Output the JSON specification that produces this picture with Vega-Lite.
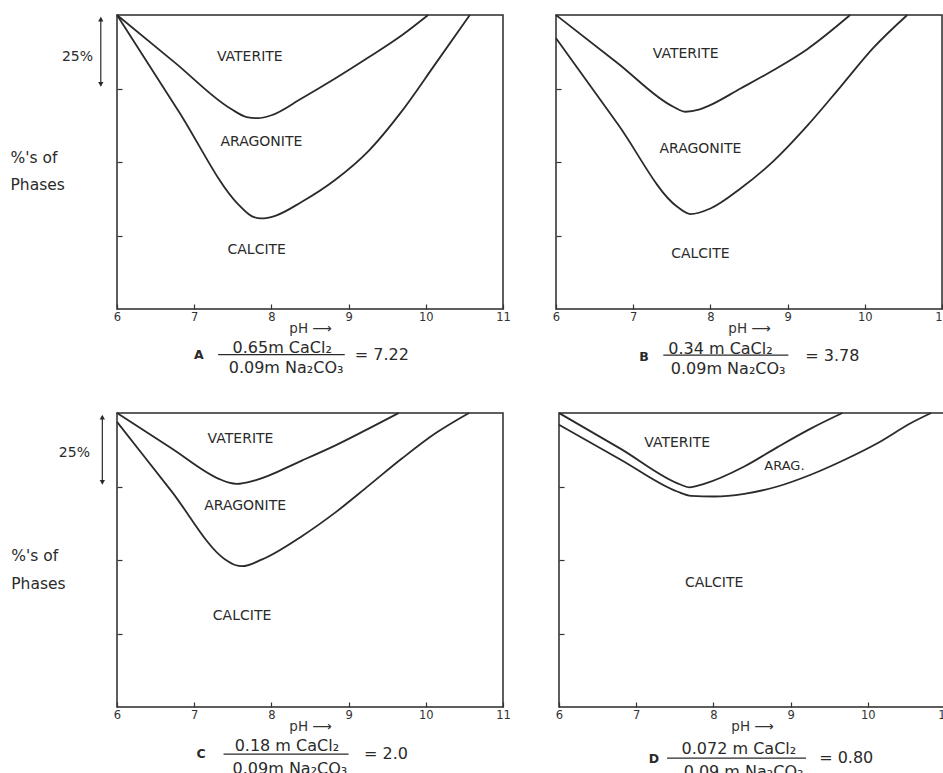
{
  "$schema": "https://vega.github.io/schema/vega-lite/v6.json",
  "background": "white",
  "padding": {"left": 9, "top": 10, "right": 0, "bottom": 0},
  "config": {
    "font": "DejaVu Sans",
    "view": {"stroke": "#2a2a2a", "strokeWidth": 1.5},
    "axis": {"grid": false, "domain": false, "tickColor": "#333333", "tickWidth": 1.2, "labelColor": "#333333", "titleColor": "#333333", "labelFont": "DejaVu Sans", "titleFont": "DejaVu Sans"},
    "text": {"font": "DejaVu Sans", "color": "#2a2a2a"},
    "rule": {"color": "#2a2a2a"}
  },
  "datasets": {
    "curves": [
      {"panel": "A", "boundary": "upper", "pH": 6, "pct": 100},
      {"panel": "A", "boundary": "upper", "pH": 6.75, "pct": 83.8},
      {"panel": "A", "boundary": "upper", "pH": 7.48, "pct": 68.0},
      {"panel": "A", "boundary": "upper", "pH": 7.68, "pct": 65.3},
      {"panel": "A", "boundary": "upper", "pH": 7.83, "pct": 64.9},
      {"panel": "A", "boundary": "upper", "pH": 8.0, "pct": 65.9},
      {"panel": "A", "boundary": "upper", "pH": 8.39, "pct": 71.6},
      {"panel": "A", "boundary": "upper", "pH": 8.82, "pct": 78.3},
      {"panel": "A", "boundary": "upper", "pH": 9.26, "pct": 85.6},
      {"panel": "A", "boundary": "upper", "pH": 9.69, "pct": 93.1},
      {"panel": "A", "boundary": "upper", "pH": 10.03, "pct": 100},
      {"panel": "A", "boundary": "lower", "pH": 6, "pct": 100},
      {"panel": "A", "boundary": "lower", "pH": 6.8, "pct": 67.2},
      {"panel": "A", "boundary": "lower", "pH": 7.57, "pct": 35.6},
      {"panel": "A", "boundary": "lower", "pH": 7.75, "pct": 31.5},
      {"panel": "A", "boundary": "lower", "pH": 7.87, "pct": 30.8},
      {"panel": "A", "boundary": "lower", "pH": 8.05, "pct": 31.7},
      {"panel": "A", "boundary": "lower", "pH": 8.39, "pct": 36.4},
      {"panel": "A", "boundary": "lower", "pH": 8.82, "pct": 43.8},
      {"panel": "A", "boundary": "lower", "pH": 9.26, "pct": 53.8},
      {"panel": "A", "boundary": "lower", "pH": 9.69, "pct": 67.3},
      {"panel": "A", "boundary": "lower", "pH": 10.12, "pct": 83.2},
      {"panel": "A", "boundary": "lower", "pH": 10.57, "pct": 100},
      {"panel": "B", "boundary": "upper", "pH": 6, "pct": 100},
      {"panel": "B", "boundary": "upper", "pH": 6.8, "pct": 83.6},
      {"panel": "B", "boundary": "upper", "pH": 7.52, "pct": 68.8},
      {"panel": "B", "boundary": "upper", "pH": 7.68, "pct": 67.1},
      {"panel": "B", "boundary": "upper", "pH": 7.85, "pct": 67.8},
      {"panel": "B", "boundary": "upper", "pH": 7.96, "pct": 68.9},
      {"panel": "B", "boundary": "upper", "pH": 8.39, "pct": 75.0},
      {"panel": "B", "boundary": "upper", "pH": 8.82, "pct": 81.3},
      {"panel": "B", "boundary": "upper", "pH": 9.25, "pct": 88.3},
      {"panel": "B", "boundary": "upper", "pH": 9.81, "pct": 100},
      {"panel": "B", "boundary": "lower", "pH": 6, "pct": 92.1},
      {"panel": "B", "boundary": "lower", "pH": 6.8, "pct": 62.9},
      {"panel": "B", "boundary": "lower", "pH": 7.57, "pct": 34.8},
      {"panel": "B", "boundary": "lower", "pH": 7.74, "pct": 32.3},
      {"panel": "B", "boundary": "lower", "pH": 8.0, "pct": 34.2},
      {"panel": "B", "boundary": "lower", "pH": 8.39, "pct": 41.0},
      {"panel": "B", "boundary": "lower", "pH": 8.82, "pct": 50.4},
      {"panel": "B", "boundary": "lower", "pH": 9.25, "pct": 62.2},
      {"panel": "B", "boundary": "lower", "pH": 9.68, "pct": 75.4},
      {"panel": "B", "boundary": "lower", "pH": 10.11, "pct": 88.8},
      {"panel": "B", "boundary": "lower", "pH": 10.55, "pct": 100},
      {"panel": "C", "boundary": "upper", "pH": 6, "pct": 100},
      {"panel": "C", "boundary": "upper", "pH": 6.7, "pct": 88.1},
      {"panel": "C", "boundary": "upper", "pH": 7.32, "pct": 77.6},
      {"panel": "C", "boundary": "upper", "pH": 7.45, "pct": 76.3},
      {"panel": "C", "boundary": "upper", "pH": 7.55, "pct": 75.9},
      {"panel": "C", "boundary": "upper", "pH": 7.79, "pct": 77.1},
      {"panel": "C", "boundary": "upper", "pH": 8.40, "pct": 83.9},
      {"panel": "C", "boundary": "upper", "pH": 8.83, "pct": 89.0},
      {"panel": "C", "boundary": "upper", "pH": 9.26, "pct": 94.7},
      {"panel": "C", "boundary": "upper", "pH": 9.65, "pct": 100},
      {"panel": "C", "boundary": "lower", "pH": 6, "pct": 97},
      {"panel": "C", "boundary": "lower", "pH": 6.7, "pct": 73.6},
      {"panel": "C", "boundary": "lower", "pH": 7.40, "pct": 50.2},
      {"panel": "C", "boundary": "lower", "pH": 7.53, "pct": 48.3},
      {"panel": "C", "boundary": "lower", "pH": 7.62, "pct": 47.9},
      {"panel": "C", "boundary": "lower", "pH": 7.88, "pct": 50.2},
      {"panel": "C", "boundary": "lower", "pH": 8.40, "pct": 58.2},
      {"panel": "C", "boundary": "lower", "pH": 8.83, "pct": 66.2},
      {"panel": "C", "boundary": "lower", "pH": 9.26, "pct": 75.3},
      {"panel": "C", "boundary": "lower", "pH": 9.69, "pct": 84.5},
      {"panel": "C", "boundary": "lower", "pH": 10.12, "pct": 93.0},
      {"panel": "C", "boundary": "lower", "pH": 10.56, "pct": 100},
      {"panel": "D", "boundary": "upper", "pH": 6, "pct": 100},
      {"panel": "D", "boundary": "upper", "pH": 6.8, "pct": 87.8},
      {"panel": "D", "boundary": "upper", "pH": 7.58, "pct": 75.6},
      {"panel": "D", "boundary": "upper", "pH": 7.69, "pct": 74.7},
      {"panel": "D", "boundary": "upper", "pH": 7.88, "pct": 75.9},
      {"panel": "D", "boundary": "upper", "pH": 8.40, "pct": 81.8},
      {"panel": "D", "boundary": "upper", "pH": 8.83, "pct": 88.4},
      {"panel": "D", "boundary": "upper", "pH": 9.26, "pct": 94.7},
      {"panel": "D", "boundary": "upper", "pH": 9.67, "pct": 100},
      {"panel": "D", "boundary": "lower", "pH": 6, "pct": 96.0},
      {"panel": "D", "boundary": "lower", "pH": 6.8, "pct": 84.1},
      {"panel": "D", "boundary": "lower", "pH": 7.53, "pct": 73.3},
      {"panel": "D", "boundary": "lower", "pH": 7.71, "pct": 71.8},
      {"panel": "D", "boundary": "lower", "pH": 8.01, "pct": 71.6},
      {"panel": "D", "boundary": "lower", "pH": 8.40, "pct": 72.5},
      {"panel": "D", "boundary": "lower", "pH": 8.83, "pct": 75.0},
      {"panel": "D", "boundary": "lower", "pH": 9.26, "pct": 79.0},
      {"panel": "D", "boundary": "lower", "pH": 9.70, "pct": 84.1},
      {"panel": "D", "boundary": "lower", "pH": 10.13, "pct": 89.8},
      {"panel": "D", "boundary": "lower", "pH": 10.56, "pct": 96.6},
      {"panel": "D", "boundary": "lower", "pH": 10.82, "pct": 100}
    ]
  },
  "spacing": 30,
  "vconcat": [
    {
      "spacing": 39,
      "hconcat": [
        {
          "width": 386, "height": 294,
          "data": {"values": [{}]},
          "layer": [
            {"data": {"name": "curves"}, "transform": [{"filter": "datum.panel === 'A'"}],
             "mark": {"type": "line", "interpolate": "monotone", "color": "#2a2a2a", "strokeWidth": 1.8},
             "encoding": {
               "x": {"field": "pH", "type": "quantitative", "scale": {"domain": [6, 11], "nice": false, "zero": false},
                     "axis": {"values": [6, 7, 8, 9, 10, 11], "format": "d", "labelFlush": false, "labelOverlap": false, "tickSize": -5, "labelPadding": 7, "labelFontSize": 11.5, "title": "pH ⟶", "titleFontSize": 13.5, "titleFontWeight": "normal", "titlePadding": -1}},
               "y": {"field": "pct", "type": "quantitative", "scale": {"domain": [0, 100], "nice": false},
                     "axis": {"values": [25, 50, 75], "labels": false, "tickSize": -5, "title": null}},
               "detail": {"field": "boundary"}}},
            {"mark": {"type": "text", "fontSize": 14}, "encoding": {"x": {"datum": 7.72}, "y": {"datum": 85.6}, "text": {"value": "VATERITE"}}},
            {"mark": {"type": "text", "fontSize": 14}, "encoding": {"x": {"datum": 7.87}, "y": {"datum": 56.8}, "text": {"value": "ARAGONITE"}}},
            {"mark": {"type": "text", "fontSize": 14}, "encoding": {"x": {"datum": 7.81}, "y": {"datum": 20.1}, "text": {"value": "CALCITE"}}},
            {"mark": {"type": "text", "fontSize": 15.5, "align": "left"}, "encoding": {"x": {"datum": 4.62}, "y": {"datum": 51.5}, "text": {"value": "%'s   of"}}},
            {"mark": {"type": "text", "fontSize": 15.5, "align": "left"}, "encoding": {"x": {"datum": 4.62}, "y": {"datum": 42.3}, "text": {"value": "Phases"}}},
            {"mark": {"type": "text", "fontSize": 14, "align": "right"}, "encoding": {"x": {"datum": 5.69}, "y": {"datum": 85.7}, "text": {"value": "25%"}}},
            {"mark": {"type": "rule", "strokeWidth": 1.2}, "encoding": {"x": {"datum": 5.79}, "y": {"datum": 99}, "y2": {"datum": 76}}},
            {"mark": {"type": "point", "shape": "triangle-up", "filled": true, "size": 28, "color": "#2a2a2a", "opacity": 1}, "encoding": {"x": {"datum": 5.79}, "y": {"datum": 98.6}}},
            {"mark": {"type": "point", "shape": "triangle-down", "filled": true, "size": 28, "color": "#2a2a2a", "opacity": 1}, "encoding": {"x": {"datum": 5.79}, "y": {"datum": 76.4}}},
            {"mark": {"type": "text", "fontSize": 12.5, "fontWeight": "bold"}, "encoding": {"x": {"datum": 7.06}, "y": {"datum": -15.7}, "text": {"value": "A"}}},
            {"mark": {"type": "text", "fontSize": 16}, "encoding": {"x": {"datum": 8.14}, "y": {"datum": -13.4}, "text": {"value": "0.65m CaCl₂"}}},
            {"mark": {"type": "rule", "strokeWidth": 1.2}, "encoding": {"x": {"datum": 7.31}, "x2": {"datum": 8.95}, "y": {"datum": -15.5}}},
            {"mark": {"type": "text", "fontSize": 16}, "encoding": {"x": {"datum": 8.19}, "y": {"datum": -20.0}, "text": {"value": "0.09m Na₂CO₃"}}},
            {"mark": {"type": "text", "fontSize": 16, "align": "left"}, "encoding": {"x": {"datum": 9.08}, "y": {"datum": -15.7}, "text": {"value": "=  7.22"}}}
          ]
        },
        {
          "width": 386, "height": 294,
          "data": {"values": [{}]},
          "layer": [
            {"data": {"name": "curves"}, "transform": [{"filter": "datum.panel === 'B'"}],
             "mark": {"type": "line", "interpolate": "monotone", "color": "#2a2a2a", "strokeWidth": 1.8},
             "encoding": {
               "x": {"field": "pH", "type": "quantitative", "scale": {"domain": [6, 11], "nice": false, "zero": false},
                     "axis": {"values": [6, 7, 8, 9, 10, 11], "format": "d", "labelFlush": false, "labelOverlap": false, "tickSize": -5, "labelPadding": 7, "labelFontSize": 11.5, "title": "pH ⟶", "titleFontSize": 13.5, "titleFontWeight": "normal", "titlePadding": -1}},
               "y": {"field": "pct", "type": "quantitative", "scale": {"domain": [0, 100], "nice": false},
                     "axis": {"values": [25, 50, 75], "labels": false, "tickSize": -5, "title": null}},
               "detail": {"field": "boundary"}}},
            {"mark": {"type": "text", "fontSize": 14}, "encoding": {"x": {"datum": 7.68}, "y": {"datum": 86.8}, "text": {"value": "VATERITE"}}},
            {"mark": {"type": "text", "fontSize": 14}, "encoding": {"x": {"datum": 7.87}, "y": {"datum": 54.5}, "text": {"value": "ARAGONITE"}}},
            {"mark": {"type": "text", "fontSize": 14}, "encoding": {"x": {"datum": 7.87}, "y": {"datum": 18.8}, "text": {"value": "CALCITE"}}},
            {"mark": {"type": "text", "fontSize": 12.5, "fontWeight": "bold"}, "encoding": {"x": {"datum": 7.14}, "y": {"datum": -16.3}, "text": {"value": "B"}}},
            {"mark": {"type": "text", "fontSize": 16}, "encoding": {"x": {"datum": 8.13}, "y": {"datum": -13.5}, "text": {"value": "0.34 m CaCl₂"}}},
            {"mark": {"type": "rule", "strokeWidth": 1.2}, "encoding": {"x": {"datum": 7.39}, "x2": {"datum": 9.01}, "y": {"datum": -15.7}}},
            {"mark": {"type": "text", "fontSize": 16}, "encoding": {"x": {"datum": 8.23}, "y": {"datum": -20.3}, "text": {"value": "0.09m Na₂CO₃"}}},
            {"mark": {"type": "text", "fontSize": 16, "align": "left"}, "encoding": {"x": {"datum": 9.23}, "y": {"datum": -16.0}, "text": {"value": "=  3.78"}}}
          ]
        }
      ]
    },
    {
      "spacing": 42,
      "hconcat": [
        {
          "width": 386, "height": 294,
          "data": {"values": [{}]},
          "layer": [
            {"data": {"name": "curves"}, "transform": [{"filter": "datum.panel === 'C'"}],
             "mark": {"type": "line", "interpolate": "monotone", "color": "#2a2a2a", "strokeWidth": 1.8},
             "encoding": {
               "x": {"field": "pH", "type": "quantitative", "scale": {"domain": [6, 11], "nice": false, "zero": false},
                     "axis": {"values": [6, 7, 8, 9, 10, 11], "format": "d", "labelFlush": false, "labelOverlap": false, "tickSize": -5, "labelPadding": 7, "labelFontSize": 11.5, "title": "pH ⟶", "titleFontSize": 13.5, "titleFontWeight": "normal", "titlePadding": -1}},
               "y": {"field": "pct", "type": "quantitative", "scale": {"domain": [0, 100], "nice": false},
                     "axis": {"values": [25, 50, 75], "labels": false, "tickSize": -5, "title": null}},
               "detail": {"field": "boundary"}}},
            {"mark": {"type": "text", "fontSize": 14}, "encoding": {"x": {"datum": 7.60}, "y": {"datum": 91.3}, "text": {"value": "VATERITE"}}},
            {"mark": {"type": "text", "fontSize": 14}, "encoding": {"x": {"datum": 7.66}, "y": {"datum": 68.2}, "text": {"value": "ARAGONITE"}}},
            {"mark": {"type": "text", "fontSize": 14}, "encoding": {"x": {"datum": 7.62}, "y": {"datum": 31.1}, "text": {"value": "CALCITE"}}},
            {"mark": {"type": "text", "fontSize": 15.5, "align": "left"}, "encoding": {"x": {"datum": 4.63}, "y": {"datum": 51.4}, "text": {"value": "%'s   of"}}},
            {"mark": {"type": "text", "fontSize": 15.5, "align": "left"}, "encoding": {"x": {"datum": 4.63}, "y": {"datum": 41.9}, "text": {"value": "Phases"}}},
            {"mark": {"type": "text", "fontSize": 14, "align": "right"}, "encoding": {"x": {"datum": 5.65}, "y": {"datum": 86.3}, "text": {"value": "25%"}}},
            {"mark": {"type": "rule", "strokeWidth": 1.2}, "encoding": {"x": {"datum": 5.81}, "y": {"datum": 99}, "y2": {"datum": 76}}},
            {"mark": {"type": "point", "shape": "triangle-up", "filled": true, "size": 28, "color": "#2a2a2a", "opacity": 1}, "encoding": {"x": {"datum": 5.81}, "y": {"datum": 98.6}}},
            {"mark": {"type": "point", "shape": "triangle-down", "filled": true, "size": 28, "color": "#2a2a2a", "opacity": 1}, "encoding": {"x": {"datum": 5.81}, "y": {"datum": 76.4}}},
            {"mark": {"type": "text", "fontSize": 12.5, "fontWeight": "bold"}, "encoding": {"x": {"datum": 7.09}, "y": {"datum": -16.0}, "text": {"value": "C"}}},
            {"mark": {"type": "text", "fontSize": 16}, "encoding": {"x": {"datum": 8.20}, "y": {"datum": -13.1}, "text": {"value": "0.18 m CaCl₂"}}},
            {"mark": {"type": "rule", "strokeWidth": 1.2}, "encoding": {"x": {"datum": 7.38}, "x2": {"datum": 9.00}, "y": {"datum": -16.0}}},
            {"mark": {"type": "text", "fontSize": 16}, "encoding": {"x": {"datum": 8.24}, "y": {"datum": -21.1}, "text": {"value": "0.09m Na₂CO₃"}}},
            {"mark": {"type": "text", "fontSize": 16, "align": "left"}, "encoding": {"x": {"datum": 9.20}, "y": {"datum": -16.0}, "text": {"value": "=  2.0"}}}
          ]
        },
        {
          "width": 386, "height": 294,
          "data": {"values": [{}]},
          "layer": [
            {"data": {"name": "curves"}, "transform": [{"filter": "datum.panel === 'D'"}],
             "mark": {"type": "line", "interpolate": "monotone", "color": "#2a2a2a", "strokeWidth": 1.8},
             "encoding": {
               "x": {"field": "pH", "type": "quantitative", "scale": {"domain": [6, 11], "nice": false, "zero": false},
                     "axis": {"values": [6, 7, 8, 9, 10, 11], "format": "d", "labelFlush": false, "labelOverlap": false, "tickSize": -5, "labelPadding": 7, "labelFontSize": 11.5, "title": "pH ⟶", "titleFontSize": 13.5, "titleFontWeight": "normal", "titlePadding": -1}},
               "y": {"field": "pct", "type": "quantitative", "scale": {"domain": [0, 100], "nice": false},
                     "axis": {"values": [25, 50, 75], "labels": false, "tickSize": -5, "title": null}},
               "detail": {"field": "boundary"}}},
            {"mark": {"type": "text", "fontSize": 14}, "encoding": {"x": {"datum": 7.53}, "y": {"datum": 89.9}, "text": {"value": "VATERITE"}}},
            {"mark": {"type": "text", "fontSize": 13}, "encoding": {"x": {"datum": 8.92}, "y": {"datum": 81.9}, "text": {"value": "ARAG."}}},
            {"mark": {"type": "text", "fontSize": 14}, "encoding": {"x": {"datum": 8.01}, "y": {"datum": 42.1}, "text": {"value": "CALCITE"}}},
            {"mark": {"type": "text", "fontSize": 12.5, "fontWeight": "bold"}, "encoding": {"x": {"datum": 7.23}, "y": {"datum": -17.6}, "text": {"value": "D"}}},
            {"mark": {"type": "text", "fontSize": 16}, "encoding": {"x": {"datum": 8.33}, "y": {"datum": -14.2}, "text": {"value": "0.072 m CaCl₂"}}},
            {"mark": {"type": "rule", "strokeWidth": 1.2}, "encoding": {"x": {"datum": 7.40}, "x2": {"datum": 9.20}, "y": {"datum": -17.4}}},
            {"mark": {"type": "text", "fontSize": 16}, "encoding": {"x": {"datum": 8.39}, "y": {"datum": -22.2}, "text": {"value": "0.09 m Na₂CO₃"}}},
            {"mark": {"type": "text", "fontSize": 16, "align": "left"}, "encoding": {"x": {"datum": 9.37}, "y": {"datum": -17.4}, "text": {"value": "=  0.80"}}}
          ]
        }
      ]
    }
  ]
}
